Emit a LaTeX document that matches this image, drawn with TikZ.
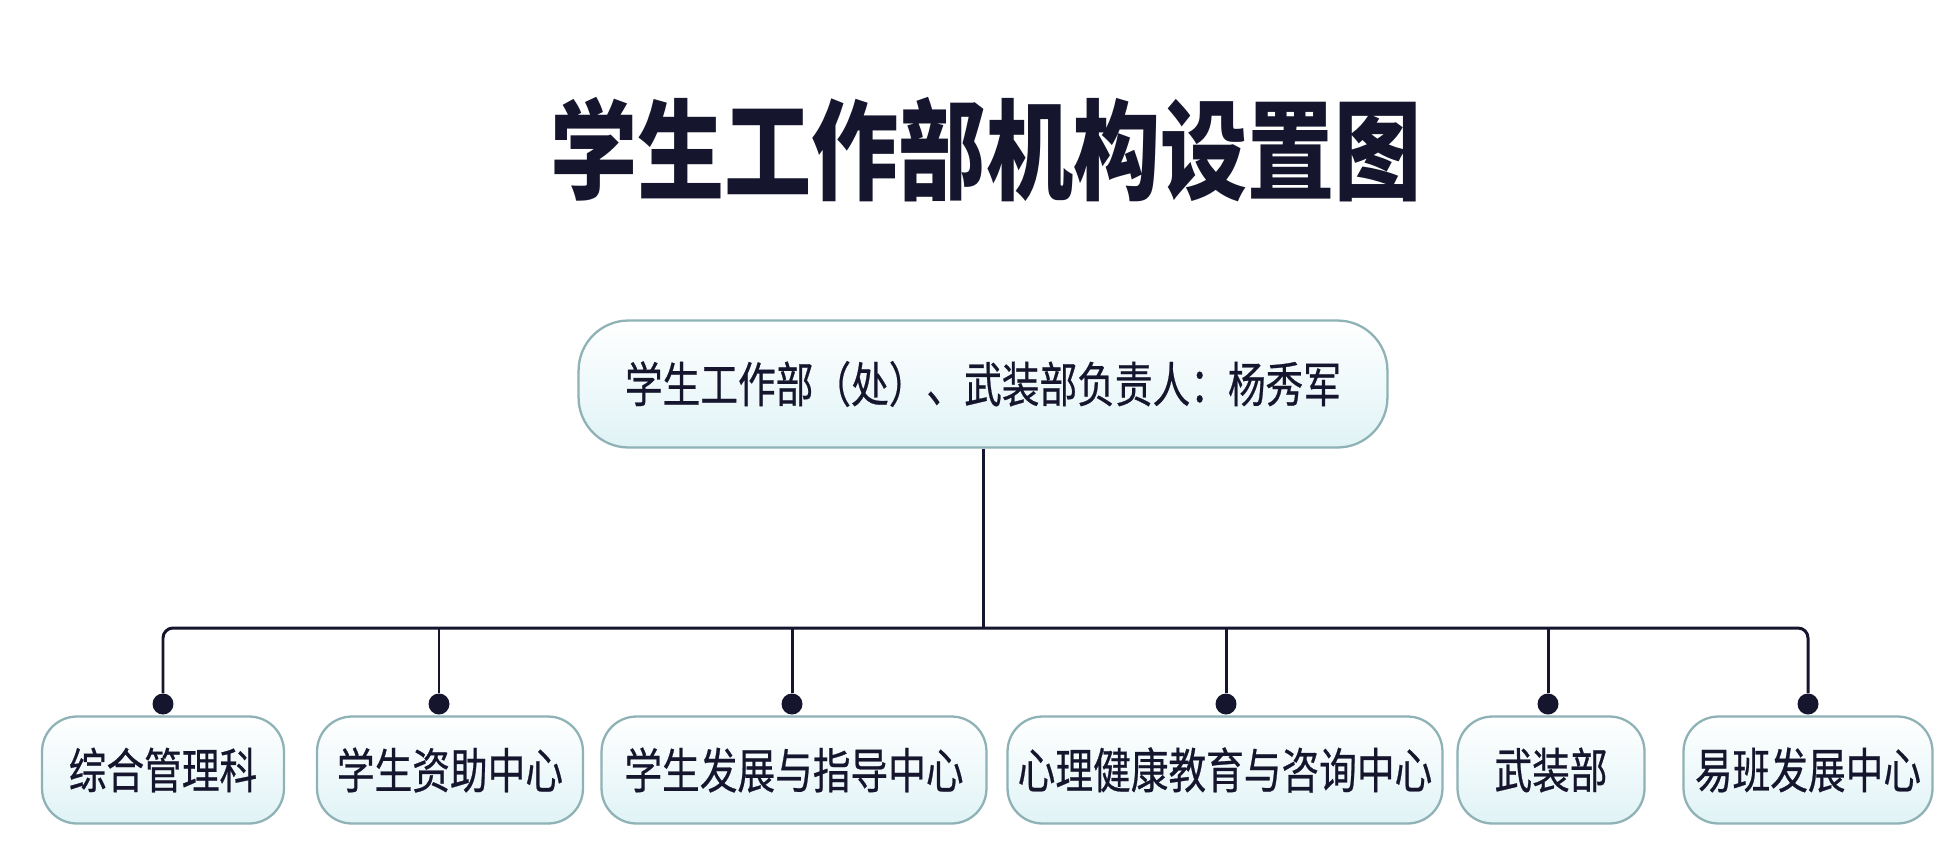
\documentclass[tikz,border=0pt]{standalone}
\usepackage{fontspec}
\newfontfamily\cjk[FakeStretch=0.8]{Noto Sans CJK SC}
\newfontfamily\cjkm[FakeStretch=0.78, FakeBold=0.5]{Noto Sans CJK SC}
\usetikzlibrary{calc}
\definecolor{ink}{HTML}{15152D}
\definecolor{rim}{HTML}{8EB2B5}
\definecolor{tint}{HTML}{E0F3F6}
\tikzset{
	unit/.style={draw=rim, line width=1.3pt, top color=white, bottom color=tint, inner sep=0pt,
		rounded corners=0.7cm, minimum height=2.14cm, text=ink, font=\cjkm\fontsize{27.5}{32}\selectfont},
	head/.style={unit, rounded corners=1cm, minimum height=2.54cm},
	headline/.style={text=ink, font=\cjk\bfseries\fontsize{62}{70}\selectfont},
	wire/.style={draw=ink, line width=1.7pt},
	knob/.style={circle, fill=ink, inner sep=0pt, minimum size=0.42cm},
}

\begin{document}
\begin{tikzpicture}[x=0.02cm, y=-0.02cm]
\fill[white] (0,0) rectangle (1958,866);
\node[headline] (title) at (986,150) {学生工作部机构设置图};
\node[head, minimum width=16.18cm] (chief) at (983,384) {学生工作部（处）、武装部负责人：杨秀军};
% lower row
\node[unit, minimum width=4.84cm] (adm) at (163,770) {综合管理科};
\node[unit, minimum width=5.32cm] (aid) at (450,770) {学生资助中心};
\node[unit, minimum width=7.7cm] (dev) at (794,770) {学生发展与指导中心};
\node[unit, minimum width=8.7cm] (psy) at (1225,770) {心理健康教育与咨询中心};
\node[unit, minimum width=3.74cm] (arm) at (1551,770) {武装部};
\node[unit, minimum width=4.98cm] (yb) at (1808,770) {易班发展中心};
\foreach \n/\x in {adm/163,aid/439,dev/792,psy/1226,arm/1548,yb/1808}
	\node[knob] (\n-k) at (\x,704) {};
\coordinate (lead) at (983,628);
\draw[wire] (chief) -- (lead);
\draw[wire, rounded corners=0.2cm] (adm-k) |- (lead) -| (yb-k);
\foreach \n in {aid,dev,psy,arm}
	\draw[wire] (\n-k) -- (\n-k |- lead);
\end{tikzpicture}
\end{document}
